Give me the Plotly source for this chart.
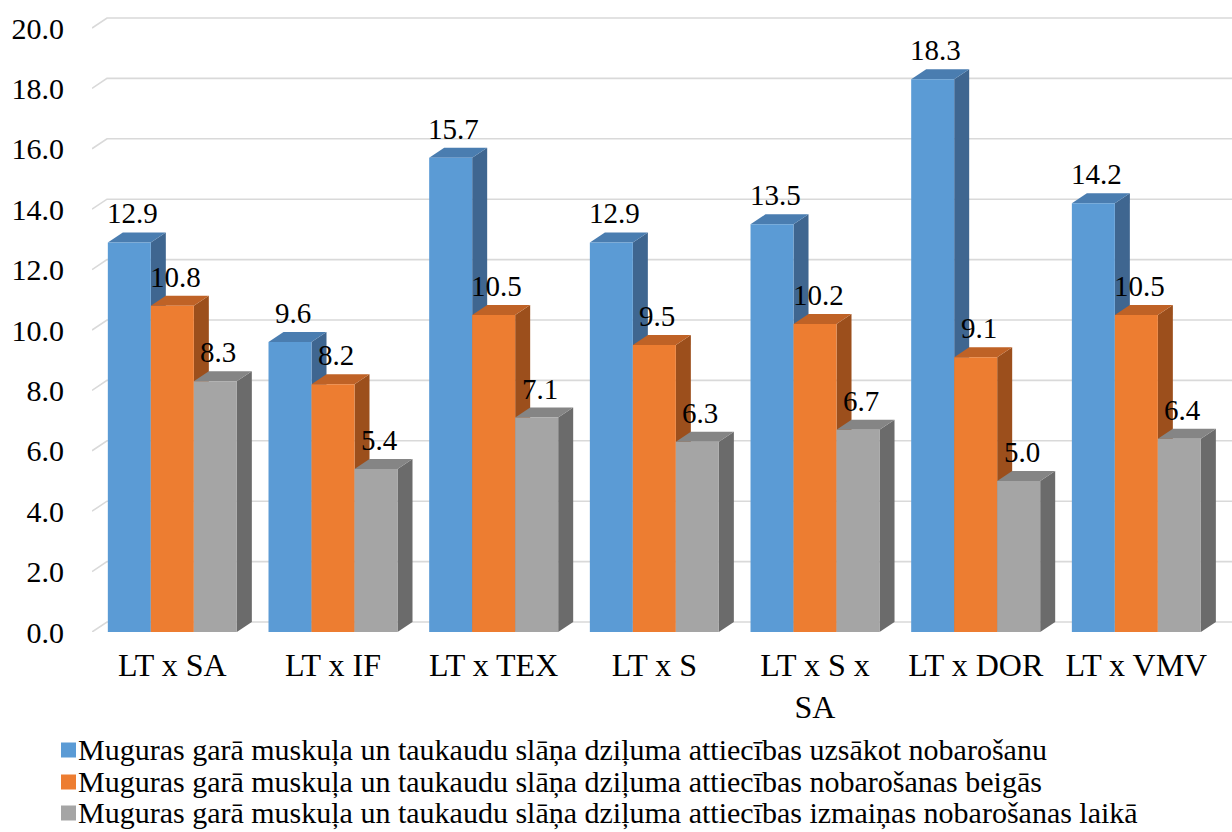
import plotly.graph_objects as go

# Category labels and series values
categories = ["LT x SA", "LT x IF", "LT x TEX", "LT x S", "LT x S x<br>SA", "LT x DOR", "LT x VMV"]
start_values = [12.9, 9.6, 15.7, 12.9, 13.5, 18.3, 14.2]
end_values = [10.8, 8.2, 10.5, 9.5, 10.2, 9.1, 10.5]
change_values = [8.3, 5.4, 7.1, 6.3, 6.7, 5.0, 6.4]
series_names = [
    "Muguras garā muskuļa un taukaudu slāņa dziļuma attiecības uzsākot nobarošanu",
    "Muguras garā muskuļa un taukaudu slāņa dziļuma attiecības nobarošanas beigās",
    "Muguras garā muskuļa un taukaudu slāņa dziļuma attiecības izmaiņas nobarošanas laikā",
]
y_ticks = [0, 2, 4, 6, 8, 10, 12, 14, 16, 18, 20]

# Colours: front face, top face, side face
palette = [
    ("#5B9BD5", "#4A7DB0", "#3F6690"),
    ("#ED7D31", "#BF6226", "#9C4F1C"),
    ("#A5A5A5", "#858585", "#6B6B6B"),
]

W, H = 1232, 832
M_L, M_R, M_T, M_B = 92, 0, 10, 200
PITCH = 160.67          # pixels per category
PX_PER_UNIT = 30.2      # pixels per y unit
plot_w = W - M_L - M_R
plot_h = H - M_T - M_B
x_min = -0.5
x_max = x_min + plot_w / PITCH
y_max = plot_h / PX_PER_UNIT

BAR_W = 43 / PITCH                 # single bar width in category units
DX = 15 / PITCH                    # depth offset (x)
DY = 10 / PX_PER_UNIT              # depth offset (y)
GROUP_LEFT = -1.5 * BAR_W

FONT = "Times New Roman, Liberation Serif, serif"


def px_to_paper_x(px):
    return (px - M_L) / plot_w


def px_to_paper_y(py):
    return (H - M_B - py) / plot_h


fig = go.Figure()
shapes = []

# back-wall gridlines with the short diagonal on the left wall
for v in y_ticks:
    shapes.append(dict(
        type="path", xref="x", yref="y", layer="below",
        path=f"M{x_min},{v} L{x_min + DX},{v + DY} L{x_max},{v + DY}",
        line=dict(color="#D9D9D9", width=1.6),
    ))

annotations = []
all_series = [start_values, end_values, change_values]
for k, (vals, name) in enumerate(zip(all_series, series_names)):
    front, top, side = palette[k]
    offset = GROUP_LEFT + k * BAR_W
    fig.add_trace(go.Bar(
        x=list(range(len(categories))), y=vals, name=name,
        width=BAR_W, offset=offset, showlegend=False,
        marker=dict(color=front, line=dict(width=0)),
    ))
    for i, v in enumerate(vals):
        x0 = i + offset
        x1 = x0 + BAR_W
        # side face
        shapes.append(dict(
            type="path", xref="x", yref="y", layer="below",
            path=f"M{x1},0 L{x1 + DX},{DY} L{x1 + DX},{v + DY} L{x1},{v} Z",
            fillcolor=side, line=dict(width=0),
        ))
        # top face
        shapes.append(dict(
            type="path", xref="x", yref="y", layer="below",
            path=f"M{x0},{v} L{x1},{v} L{x1 + DX},{v + DY} L{x0 + DX},{v + DY} Z",
            fillcolor=top, line=dict(width=0),
        ))
        annotations.append(dict(
            x=x0 + BAR_W / 2 + DX * 0.2, y=v, xref="x", yref="y",
            text=f"{v:.1f}", showarrow=False, yanchor="bottom", yshift=11,
            font=dict(family=FONT, size=29, color="#000000"),
        ))

# legend: coloured square and series name per row
legend_rows_y = [750, 782, 813]
for k, name in enumerate(series_names):
    cy = legend_rows_y[k]
    shapes.append(dict(
        type="rect", xref="paper", yref="paper", layer="above",
        x0=px_to_paper_x(61), x1=px_to_paper_x(76),
        y0=px_to_paper_y(cy + 7.5), y1=px_to_paper_y(cy - 7.5),
        fillcolor=palette[k][0], line=dict(width=0),
    ))
    annotations.append(dict(
        x=px_to_paper_x(76), y=px_to_paper_y(cy), xref="paper", yref="paper",
        text=name, showarrow=False, xanchor="left", yanchor="middle",
        font=dict(family=FONT, size=30, color="#000000"),
    ))

fig.update_layout(
    width=W, height=H,
    margin=dict(l=M_L, r=M_R, t=M_T, b=M_B, autoexpand=False),
    paper_bgcolor="white", plot_bgcolor="rgba(0,0,0,0)",
    barmode="overlay",
    shapes=shapes, annotations=annotations,
    showlegend=False,
    font=dict(family=FONT, color="#000000"),
)

fig.update_xaxes(
    range=[x_min, x_max], tickmode="array",
    tickvals=list(range(len(categories))), ticktext=categories,
    showgrid=False, zeroline=False, showline=False, ticks="",
    ticklabelstandoff=11,
    tickfont=dict(family=FONT, size=32, color="#000000"),
    fixedrange=True,
)
fig.update_yaxes(
    range=[0, y_max], tickmode="array", tickvals=y_ticks,
    ticktext=[f"{t:.1f}" for t in y_ticks],
    showgrid=False, zeroline=False, showline=False, ticks="",
    ticklabelstandoff=27,
    tickfont=dict(family=FONT, size=30, color="#000000"),
    fixedrange=True,
)

fig.write_html("out.html", config={"displayModeBar": False})
